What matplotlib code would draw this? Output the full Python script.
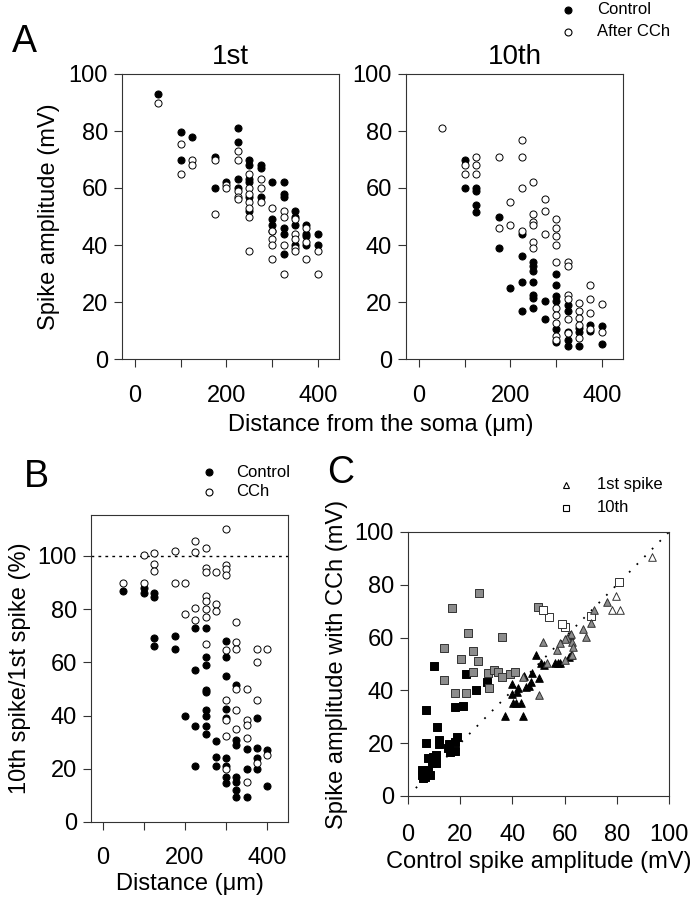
import matplotlib
matplotlib.use("Agg")
import matplotlib.pyplot as plt
from matplotlib.lines import Line2D

# --- data ---
# A: spike amplitude (mV) vs distance from soma, 1st spike
first_ctrl = {50: [93], 100: [79.5, 70], 125: [78], 175: [71, 60], 200: [62],
              225: [81, 76, 63, 60], 250: [70, 68, 63, 62, 57, 52], 275: [68, 67, 57],
              300: [62, 49, 47, 45], 325: [62, 58, 57, 46, 44, 37], 350: [52, 50, 47, 40],
              375: [47, 44, 43, 40], 400: [44, 40]}
first_cch = {50: [90], 100: [75.5, 65], 125: [70, 68], 175: [70, 51], 200: [61, 60],
             225: [73, 70, 59, 57, 56], 250: [65, 60, 58, 55, 53, 50, 38], 275: [63, 60, 55],
             300: [53, 45, 42, 40, 35], 325: [52, 50, 40, 30], 350: [49, 44, 42, 39, 38],
             375: [46, 41, 35], 400: [38, 30]}

# A: 10th spike
tenth_ctrl = {100: [70, 60], 125: [60, 59, 54, 51.5], 175: [50, 39], 200: [25],
              225: [44, 36, 27, 17], 250: [34, 32.5, 31, 27, 22.5, 21.5, 18], 275: [20.5, 14],
              300: [30, 26, 22, 20.5, 10.5, 6], 325: [19, 17, 9.5, 6.5, 4.5], 350: [11, 9.6, 4.7],
              375: [12, 10], 400: [11.7, 5.3]}
tenth_cch = {50: [81], 100: [68, 65], 125: [71, 68, 65], 175: [71, 46], 200: [55, 47],
             225: [77, 71, 60, 45], 250: [62, 51, 48, 47, 41, 39], 275: [56, 52, 44],
             300: [49, 46, 43, 40, 34, 18, 15.5, 12.5, 8, 6.5], 325: [34, 32.5, 22.5, 21, 14, 9],
             350: [19.5, 17, 14.5, 12, 7.3], 375: [26, 21, 16, 10.5], 400: [19.3, 9.4]}

# B: 10th spike / 1st spike (%)
ratio_ctrl = {50: [87], 100: [88, 86], 125: [86, 84.5, 69, 66], 175: [70, 65], 200: [40],
              225: [73, 57, 36, 21], 250: [73, 62, 59, 49.5, 49, 42, 40, 36, 33],
              275: [30.5, 24.5, 21], 300: [68, 62, 55, 42.5, 39, 24, 21, 17, 14.5],
              325: [51.5, 31, 29, 17, 15, 12, 9.5], 350: [27.5, 20, 9.5],
              375: [39, 28, 24, 20], 400: [27, 13.5]}
ratio_cch = {50: [90], 100: [100.5, 90], 125: [101, 97, 94.5], 175: [102, 90], 200: [90, 78],
             225: [105.5, 101.5, 80.5, 76], 250: [103, 95.5, 94, 85, 83, 80, 77, 67],
             275: [94, 82, 79.5], 300: [110, 96.5, 95, 93, 64.5, 46, 38.5, 32.5, 20],
             325: [75, 67.5, 65, 50, 42, 35], 350: [50, 38.5, 36.5, 31.5, 15],
             375: [65, 60, 46, 22], 400: [65, 25]}

# C: control amplitude vs amplitude with CCh (mV)
tri_white_x = [93.4, 79.7, 78.3, 81.2]
tri_white_y = [90.4, 75.8, 70.5, 70.5]
tri_gray_x = [76.2, 71.1, 70.1, 67.2, 68.3, 62.3, 61, 60.2, 62.7, 63.3, 57, 58.2, 51.9,
              60.2, 63, 53.1, 50.2, 44.2]
tri_gray_y = [73.4, 70.5, 65.4, 63.3, 60.4, 61.2, 60, 59.3, 58.5, 56.3, 55.3, 57.8, 58.3,
              51.5, 53.4, 50.3, 38.3, 45.2]
tri_black_x = [62.1, 62.5, 61.8, 57.6, 56.3, 58.2, 48.9, 51, 52.2, 50.1, 47.4, 44.4, 47.1,
               46.4, 45.1, 42.3, 40, 41.6, 40, 43.2, 41.3, 40.1, 37.2, 44.2]
tri_black_y = [61, 53.4, 52.5, 50.5, 50.5, 50.5, 53.4, 50.5, 49.6, 44.6, 46.5, 45.5, 43.3,
               41.7, 41.4, 40.8, 42.4, 39.5, 38.6, 35.4, 35.4, 35.4, 30.4, 30.4]
sq_white_x = [81, 70, 60.3, 58.9, 54.2, 51.9]
sq_white_y = [81.2, 68.2, 64.1, 65.2, 67.7, 70.5]
sq_gray_x = [27.3, 16.9, 49.8, 23.1, 36, 13.9, 24.9, 20.3, 26.9, 24.9, 30.8, 33.1, 34.3,
             36.1, 39.1, 41, 13.8, 31, 18, 22.1]
sq_gray_y = [77, 71.1, 71.5, 61.9, 60.1, 56.2, 55.1, 51.9, 51.3, 47, 46.5, 47.7, 47.1,
             45.2, 46.1, 47, 43.9, 41, 39.1, 39.1]
sq_black_x = [10, 22.1, 30.1, 26.1, 17.9, 20.9, 6.9, 11, 6.9, 12, 11.8, 18.9, 18, 15.8,
              15.5, 16.1, 18, 7.8, 9.4, 10.7, 9.1, 10.9, 7.8, 5.9, 5.3, 5.3, 6.4, 8.4, 5.9]
sq_black_y = [49.2, 46.2, 43.3, 40.2, 33.8, 34.1, 32.6, 26, 20.2, 21.2, 19.7, 22.5, 20.6,
              19.7, 18.1, 16.8, 17.2, 14.3, 14.9, 15.5, 12.4, 12.4, 9.8, 8.8, 9.8, 8, 7.1,
              8, 6.7]

DIST_TICKS = [0, 100, 200, 300, 400]
DIST_LABELS = ["0", "", "200", "", "400"]
PCT_TICKS = [0, 20, 40, 60, 80, 100]

W, H = 695, 899


def flat(d):
    xs, ys = [], []
    for k, vals in d.items():
        xs += [k] * len(vals)
        ys += vals
    return xs, ys


def box(l, t, r, b):
    return [l / W, 1 - b / H, (r - l) / W, (b - t) / H]


def px(x, y):
    return x / W, 1 - y / H


def style(ax):
    for s in ax.spines.values():
        s.set_linewidth(0.8)
        s.set_color("#333333")
    ax.tick_params(direction="out", length=6, width=0.8, color="#333333",
                   labelsize=17, pad=4)


def circles(ax, ctrl, cch):
    x, y = flat(ctrl)
    ax.scatter(x, y, s=26, c="black", edgecolors="black", linewidths=0.7, zorder=3)
    x, y = flat(cch)
    ax.scatter(x, y, s=26, c="white", edgecolors="black", linewidths=0.7, zorder=3)


def key(x_mark, x_text, ys, markers, labels):
    # small legend: marker + label, placed in figure pixels
    for y, mk, lab in zip(ys, markers, labels):
        fig.add_artist(Line2D([x_mark / W], [1 - y / H], transform=fig.transFigure,
                              ls="", mew=0.8, **mk))
        fig.text(x_text / W, 1 - y / H, lab, fontsize=12, ha="left", va="center")


plt.rcParams["font.family"] = ["Liberation Sans", "DejaVu Sans"]
fig = plt.figure(figsize=(W / 100, H / 100), dpi=100)

dot_full = dict(marker="o", ms=5, mfc="black", mec="black")
dot_open = dict(marker="o", ms=5, mfc="white", mec="black")

# --- A ---
axA1 = fig.add_axes(box(122, 74, 339, 359))
axA2 = fig.add_axes(box(406, 74, 623, 359))
circles(axA1, first_ctrl, first_cch)
circles(axA2, tenth_ctrl, tenth_cch)
for ax in (axA1, axA2):
    ax.set_xlim(-28, 446)
    ax.set_ylim(0, 100)
    ax.set_xticks(DIST_TICKS)
    ax.set_xticklabels(DIST_LABELS)
    ax.set_yticks(PCT_TICKS)
    style(ax)
    ax.tick_params(axis="x", pad=13)
axA1.set_title("1st", fontsize=20, pad=7)
axA2.set_title("10th", fontsize=20, pad=7)
axA1.set_ylabel("Spike amplitude (mV)", fontsize=17, labelpad=6)
fig.text(*px(381, 425), "Distance from the soma (\u03bcm)", fontsize=17,
         ha="center", va="center")
fig.text(*px(24, 42), "A", fontsize=27, ha="center", va="center")
key(568, 597, [10, 32], [dot_full, dot_open], ["Control", "After CCh"])

# --- B ---
axB = fig.add_axes(box(91, 515, 288, 822))
circles(axB, ratio_ctrl, ratio_cch)
axB.axhline(100, color="black", lw=1.0, ls=(0, (2, 3)), zorder=2)
axB.set_xlim(-29, 451)
axB.set_ylim(0, 115.4)
axB.set_xticks(DIST_TICKS)
axB.set_xticklabels(DIST_LABELS)
axB.set_yticks(PCT_TICKS)
style(axB)
axB.tick_params(axis="x", pad=12)
axB.set_ylabel("10th spike/1st spike (%)", fontsize=17, labelpad=5)
axB.set_xlabel("Distance (\u03bcm)", fontsize=17, labelpad=3)
fig.text(*px(36, 477), "B", fontsize=27, ha="center", va="center")
key(209, 236, [472, 492], [dot_full, dot_open], ["Control", "CCh"])

# --- C ---
axC = fig.add_axes(box(408, 532, 669, 796))
axC.plot([3, 100], [3, 100], color="black", lw=1.3, ls=(0, (1, 5)), zorder=2)
kw = dict(s=30, linewidths=0.7, zorder=3)
axC.scatter(sq_black_x, sq_black_y, marker="s", c="black", edgecolors="black", **kw)
axC.scatter(sq_gray_x, sq_gray_y, marker="s", c="#8c8c8c", edgecolors="#333333", **kw)
axC.scatter(sq_white_x, sq_white_y, marker="s", c="white", edgecolors="#333333", **kw)
axC.scatter(tri_black_x, tri_black_y, marker="^", c="black", edgecolors="black", **kw)
axC.scatter(tri_gray_x, tri_gray_y, marker="^", c="#8c8c8c", edgecolors="#333333", **kw)
axC.scatter(tri_white_x, tri_white_y, marker="^", c="white", edgecolors="#333333", **kw)
axC.set_xlim(0, 100)
axC.set_ylim(0, 100)
axC.set_xticks(PCT_TICKS)
axC.set_yticks(PCT_TICKS)
style(axC)
axC.tick_params(axis="x", pad=14)
axC.set_ylabel("Spike amplitude with CCh (mV)", fontsize=17, labelpad=5)
axC.set_xlabel("Control spike amplitude (mV)", fontsize=17, labelpad=4)
fig.text(*px(341, 473), "C", fontsize=27, ha="center", va="center")
key(566, 597, [485, 508],
    [dict(marker="^", ms=5, mfc="white", mec="black"),
     dict(marker="s", ms=4.5, mfc="white", mec="black")],
    ["1st spike", "10th"])

fig.savefig("out.png", dpi=100)
